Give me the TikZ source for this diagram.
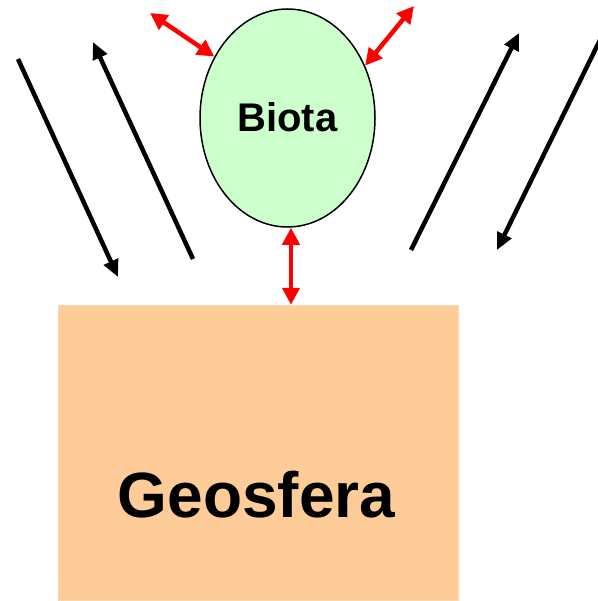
\documentclass[tikz,border=0pt]{standalone}
\usepackage{fontspec}
\setmainfont{Liberation Sans}
\usetikzlibrary{arrows.meta,shapes.geometric}
\definecolor{biotafill}{RGB}{204,255,204}
\definecolor{geofill}{RGB}{254,204,153}
\definecolor{geoedge}{RGB}{255,214,170}
\tikzset{
  exchange/.style={draw=red,line width=4.5pt,
    {Triangle[length=17pt,width=17pt]}-{Triangle[length=17pt,width=17pt]}},
  flux/.style={draw=black,line width=4.5pt,-{Triangle[length=17pt,width=15pt]}},
  sphere/.style={ellipse,draw=black,line width=1.5pt,fill=biotafill,inner sep=0pt},
  ground/.style={rectangle,fill=geofill,draw=geoedge,line width=1.5pt,inner sep=0pt}
}
\begin{document}
\begin{tikzpicture}[x=1pt,y=-1pt]
  \useasboundingbox (0,0) rectangle (597,601);

  % Geosphere block and biota ellipse
  \node[ground,minimum width=400pt,minimum height=295pt] (geo) at (258.5,453) {};
  \node[font=\bfseries\fontsize{64}{64}\selectfont,anchor=base] (geolabel) at (256.5,517) {Geosfera};
  \node[sphere,minimum width=175pt,minimum height=218pt] (biota) at (287.5,118) {};
  \node[font=\bfseries\fontsize{40}{40}\selectfont,anchor=base] (biotalabel) at (287.5,132) {Biota};

  % Free ends of the arrows
  \coordinate (ul) at (150,13);
  \coordinate (ur) at (414,6);
  \coordinate (a1s) at (18,59);
  \coordinate (a1e) at (118,277);
  \coordinate (a2s) at (193,259);
  \coordinate (a2e) at (93,42);
  \coordinate (a3s) at (411,250);
  \coordinate (a3e) at (519,33);
  \coordinate (a4s) at (600,40);
  \coordinate (a4e) at (497,250);

  % Exchanges of the biota
  \draw[exchange] (ul) -- (biota.140.8);
  \draw[exchange] (ur) -- (biota.34.7);
  \draw[exchange] ([xshift=3.5pt]biota.south) -- ([xshift=3.5pt]biota.south |- geo.north);

  % Incoming and outgoing fluxes
  \draw[flux] (a1s) -- (a1e);
  \draw[flux] (a2s) -- (a2e);
  \draw[flux] (a3s) -- (a3e);
  \draw[flux] (a4s) -- (a4e);
\end{tikzpicture}
\end{document}
